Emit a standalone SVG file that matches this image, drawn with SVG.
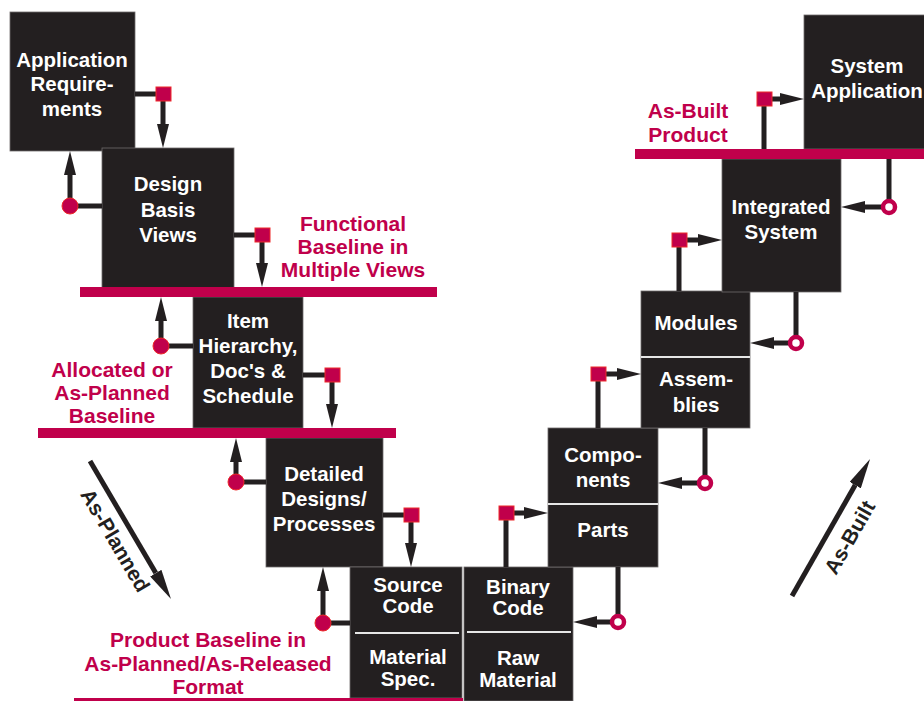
<svg xmlns="http://www.w3.org/2000/svg" width="924" height="701" viewBox="0 0 924 701">
  <style>
    .box { fill: #231f20; stroke: #6f6b6c; stroke-width: 0.8; }
    .div { stroke: #e6e6e6; stroke-width: 2; }
    .bt { font-family: "Liberation Sans", Arial, Helvetica, sans-serif; font-weight: bold; font-size: 20.5px; fill: #ffffff; text-anchor: middle; }
    .lbl { font-family: "Liberation Sans", Arial, Helvetica, sans-serif; font-weight: bold; font-size: 21px; fill: #c0004b; text-anchor: middle; }
    .dir { font-family: "Liberation Sans", Arial, Helvetica, sans-serif; font-weight: bold; font-size: 21px; fill: #231f20; text-anchor: middle; }
    .bar { fill: #c0004b; }
    .ln { fill: none; stroke: #231f20; stroke-width: 5; stroke-linejoin: miter; marker-end: url(#ah); }
    .sq { fill: #c0004b; stroke: #ee2a2a; stroke-width: 1; }
    .dot { fill: #c0004b; stroke: #ee2a2a; stroke-width: 1; }
    .ring { fill: #ffffff; stroke: #c0004b; stroke-width: 4.5; }
    .diag { fill: none; stroke: #231f20; stroke-width: 5; marker-end: url(#ah2); }
  </style>
  <defs>
    <marker id="ah" markerUnits="userSpaceOnUse" markerWidth="24" markerHeight="12" refX="0" refY="6" orient="auto">
      <path d="M0,0 L24,6 L0,12 Z" fill="#231f20"/>
    </marker>
    <marker id="ah2" markerUnits="userSpaceOnUse" markerWidth="30" markerHeight="13" refX="0" refY="6.5" orient="auto">
      <path d="M0,0 L30,6.5 L0,13 Z" fill="#231f20"/>
    </marker>
  </defs>

  <rect width="924" height="701" fill="#ffffff"/>

  <!-- left branch: planning -->
  <g id="app-requirements">
    <rect class="box" x="10" y="12" width="125" height="139"/>
    <text class="bt" x="72" y="67">Application</text>
    <text class="bt" x="72" y="91">Require-</text>
    <text class="bt" x="72" y="116">ments</text>
  </g>
  <g id="design-basis">
    <rect class="box" x="102" y="148" width="132" height="140"/>
    <text class="bt" x="168" y="191">Design</text>
    <text class="bt" x="168" y="217">Basis</text>
    <text class="bt" x="168" y="242">Views</text>
  </g>
  <g id="item-hierarchy">
    <rect class="box" x="193" y="297" width="110" height="131"/>
    <text class="bt" x="248" y="328">Item</text>
    <text class="bt" x="248" y="353">Hierarchy,</text>
    <text class="bt" x="248" y="378">Doc's &amp;</text>
    <text class="bt" x="248" y="403">Schedule</text>
  </g>
  <g id="detailed-designs">
    <rect class="box" x="266" y="438" width="117" height="129"/>
    <text class="bt" x="324" y="481">Detailed</text>
    <text class="bt" x="324" y="506">Designs/</text>
    <text class="bt" x="324" y="531">Processes</text>
  </g>
  <g id="source-material-spec">
    <rect class="box" x="350" y="567" width="112" height="131"/>
    <line class="div" x1="355" y1="633" x2="459" y2="633"/>
    <text class="bt" x="408" y="592">Source</text>
    <text class="bt" x="408" y="613">Code</text>
    <text class="bt" x="408" y="664">Material</text>
    <text class="bt" x="408" y="686">Spec.</text>
  </g>

  <!-- right branch: building -->
  <g id="binary-raw-material">
    <rect class="box" x="464" y="567" width="109" height="134"/>
    <line class="div" x1="467" y1="632" x2="571" y2="632"/>
    <text class="bt" x="518" y="594">Binary</text>
    <text class="bt" x="518" y="615">Code</text>
    <text class="bt" x="518" y="665">Raw</text>
    <text class="bt" x="518" y="687">Material</text>
  </g>
  <g id="components-parts">
    <rect class="box" x="548" y="428" width="110" height="139"/>
    <line class="div" x1="548" y1="504" x2="658" y2="504"/>
    <text class="bt" x="603" y="462">Compo-</text>
    <text class="bt" x="603" y="487">nents</text>
    <text class="bt" x="603" y="537">Parts</text>
  </g>
  <g id="modules-assemblies">
    <rect class="box" x="641" y="291" width="109" height="137"/>
    <line class="div" x1="641" y1="357" x2="750" y2="357"/>
    <text class="bt" x="696" y="330">Modules</text>
    <text class="bt" x="696" y="386">Assem-</text>
    <text class="bt" x="696" y="412">blies</text>
  </g>
  <g id="integrated-system">
    <rect class="box" x="722" y="159" width="119" height="133"/>
    <text class="bt" x="781" y="214">Integrated</text>
    <text class="bt" x="781" y="239">System</text>
  </g>
  <g id="system-application">
    <rect class="box" x="804" y="15" width="125" height="134"/>
    <text class="bt" x="867" y="73">System</text>
    <text class="bt" x="867" y="98">Application</text>
  </g>

  <!-- baselines -->
  <g id="functional-baseline">
    <rect class="bar" x="80" y="287" width="357" height="10"/>
    <text class="lbl" x="353" y="231">Functional</text>
    <text class="lbl" x="353" y="254">Baseline in</text>
    <text class="lbl" x="353" y="277">Multiple Views</text>
  </g>
  <g id="allocated-baseline">
    <rect class="bar" x="38" y="428" width="358" height="10"/>
    <text class="lbl" x="112" y="377">Allocated or</text>
    <text class="lbl" x="112" y="400">As-Planned</text>
    <text class="lbl" x="112" y="423">Baseline</text>
  </g>
  <g id="product-baseline">
    <rect class="bar" x="74" y="698" width="389" height="3"/>
    <text class="lbl" x="208" y="647">Product Baseline in</text>
    <text class="lbl" x="208" y="671">As-Planned/As-Released</text>
    <text class="lbl" x="208" y="694">Format</text>
  </g>
  <g id="as-built-product">
    <rect class="bar" x="635" y="149" width="289" height="10"/>
    <text class="lbl" x="688" y="118">As-Built</text>
    <text class="lbl" x="688" y="142">Product</text>
  </g>

  <!-- connectors -->
  <g id="connectors">
    <path class="ln" d="M135,94 H163 V124"/>
    <path class="ln" d="M102,206 H70 V175"/>
    <path class="ln" d="M234,235 H262 V263"/>
    <path class="ln" d="M193,346 H161 V321"/>
    <path class="ln" d="M303,375 H332 V404"/>
    <path class="ln" d="M266,482 H236 V462"/>
    <path class="ln" d="M383,515 H411 V543"/>
    <path class="ln" d="M350,623 H323 V591"/>

    <path class="ln" d="M506,567 V513 H524"/>
    <path class="ln" d="M618,567 V622 H597"/>
    <path class="ln" d="M598,428 V374 H617"/>
    <path class="ln" d="M705,428 V483 H682"/>
    <path class="ln" d="M679,291 V240 H698"/>
    <path class="ln" d="M796,292 V343 H774"/>
    <path class="ln" d="M764,149 V99 H780"/>
    <path class="ln" d="M889,159 V207 H865"/>

    <rect class="sq" x="156" y="87" width="15" height="14"/>
    <rect class="sq" x="255" y="228" width="15" height="14"/>
    <rect class="sq" x="325" y="368" width="15" height="14"/>
    <rect class="sq" x="404" y="508" width="15" height="14"/>
    <rect class="sq" x="499" y="506" width="15" height="14"/>
    <rect class="sq" x="591" y="367" width="15" height="14"/>
    <rect class="sq" x="672" y="233" width="15" height="14"/>
    <rect class="sq" x="757" y="92" width="15" height="14"/>

    <circle class="dot" cx="70" cy="206" r="8"/>
    <circle class="dot" cx="161" cy="346" r="8"/>
    <circle class="dot" cx="236" cy="482" r="8"/>
    <circle class="dot" cx="323" cy="623" r="8"/>

    <circle class="ring" cx="618" cy="622" r="6"/>
    <circle class="ring" cx="705" cy="483" r="6"/>
    <circle class="ring" cx="796" cy="343" r="6"/>
    <circle class="ring" cx="889" cy="207" r="6"/>
  </g>

  <!-- direction arrows -->
  <g id="as-planned">
    <path class="diag" d="M90,461 L155.8,573.1"/>
    <text class="dir" transform="translate(109,544) rotate(59.6)">As-Planned</text>
  </g>
  <g id="as-built">
    <path class="diag" d="M792,596 L855.2,485.1"/>
    <text class="dir" transform="translate(856,541) rotate(-60.3)">As-Built</text>
  </g>
</svg>
